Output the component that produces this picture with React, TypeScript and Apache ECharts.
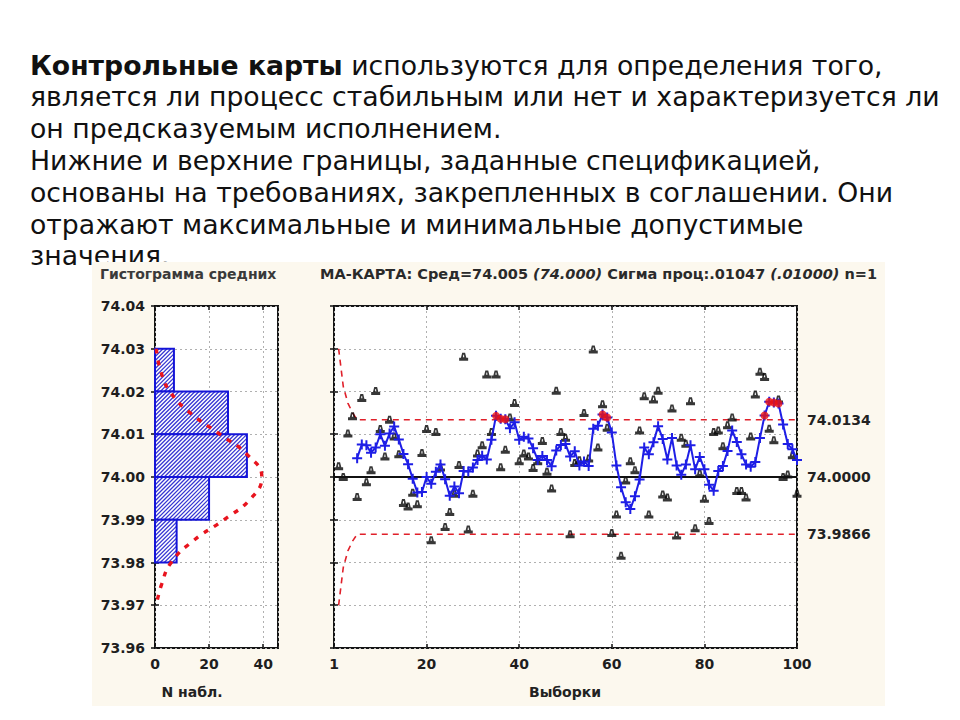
import React, { useEffect, useRef } from 'react';
import * as echarts from 'echarts';

// ---------- slide text ----------
const slideLines: string[] = [
  '{b|Контрольные карты} используются для определения того,',
  'является ли процесс стабильным или нет и характеризуется ли',
  'он предсказуемым исполнением.',
  'Нижние и верхние границы, заданные спецификацией,',
  'основаны на требованиях, закрепленных в соглашении. Они',
  'отражают максимальные и минимальные допустимые',
  'значения.',
];

const histTitle = 'Гистограмма средних';
const maTitleParts: [string, boolean][] = [
  ['МА-КАРТА: Сред=74.005 ', false],
  ['(74.000)', true],
  [' Сигма проц:.01047 ', false],
  ['(.01000)', true],
  [' n=1', false],
];
const histXName = 'N набл.';
const maXName = 'Выборки';

// ---------- histogram ----------
const binLower = [74.02, 74.01, 74.0, 73.99, 73.98];
const binUpper = [74.03, 74.02, 74.01, 74.0, 73.99];
const binCounts = [7, 27, 34, 20, 8];

const curveValues = [74.03, 74.025, 74.02, 74.015, 74.01, 74.005, 74.0, 73.995, 73.99, 73.985, 73.98, 73.975, 73.97];
const curveCounts = [0.5, 2, 5.5, 13, 24, 34.5, 39.5, 35.5, 25.5, 14, 6, 2.5, 0.5];

// ---------- MA chart ----------
const samples = [
  74.0025, 74.0, 74.0102, 74.0142, 73.9953, 74.0185, 73.9988, 74.0016, 74.0201, 74.0112,
  74.0048, 74.0134, 74.0095, 74.0053, 73.9939, 73.9931, 73.9963, 73.9936, 74.0056, 74.0112,
  73.9852, 74.0105, 74.0022, 73.9883, 73.9918, 73.9961, 74.0028, 74.0281, 73.9877, 73.9961,
  74.0055, 74.0074, 74.024, 74.0105, 74.024, 74.0023, 74.0064, 74.0139, 74.0173, 74.0037,
  74.0055, 74.0048, 74.0021, 74.0037, 74.0084, 74.0012, 73.9973, 74.0202, 74.0105, 74.0092,
  73.9866, 74.0033, 74.0039, 74.015, 74.0043, 74.0298, 74.0069, 74.017, 74.0115, 73.9869,
  73.9912, 73.9816, 73.9992, 74.0037, 74.0016, 74.0109, 74.0189, 73.9912, 74.0181, 74.0202,
  73.9959, 73.9952, 74.016, 73.9863, 74.0092, 74.0078, 74.0177, 73.988, 74.0008, 73.9949,
  73.9897, 74.0105, 74.0109, 74.0072, 74.0121, 74.0139, 73.9967, 73.9967, 73.9952, 74.0095,
  74.0193, 74.0246, 74.0234, 74.0113, 74.0086, 74.0181, 74.0, 74.0006, 74.0051, 73.9961,
];

const movingAvg: (number | null)[] = [
  null, null, null, null, 74.0044, 74.0076, 74.0074, 74.0057, 74.0069, 74.01,
  74.0073, 74.0102, 74.0118, 74.0088, 74.0054, 74.003, 73.9996, 73.9964, 73.9965, 74.0,
  73.9984, 74.0012, 74.0029, 73.9995, 73.9956, 73.9978, 73.9962, 74.0014, 74.0013, 74.0022,
  74.004, 74.005, 74.0041, 74.0087, 74.0143, 74.0136, 74.0135, 74.0114, 74.0128, 74.0087,
  74.0094, 74.009, 74.0067, 74.004, 74.0049, 74.004, 74.0025, 74.0062, 74.0075, 74.0077,
  74.0048, 74.006, 74.0027, 74.0036, 74.0026, 74.0113, 74.012, 74.0146, 74.0139, 74.0104,
  74.0027, 73.9976, 73.9941, 73.9925, 73.9955, 73.9994, 74.0069, 74.0053, 74.0081, 74.0119,
  74.0089, 74.0041, 74.0091, 74.0027, 74.0005, 74.0029, 74.0074, 74.0018, 74.0047, 74.0018,
  73.9982, 73.9968, 74.0014, 74.0026, 74.0061, 74.0109, 74.0082, 74.0053, 74.0029, 74.0024,
  74.0035, 74.0091, 74.0144, 74.0176, 74.0174, 74.0172, 74.0123, 74.0077, 74.0065, 74.004,
];

const uclX = [1, 2, 3, 4, 5, 100];
const uclY = [74.03, 74.0212, 74.0173, 74.015, 74.0134, 74.0134];
const lclX = [1, 2, 3, 4, 5, 100];
const lclY = [73.97, 73.9788, 73.9827, 73.985, 73.9866, 73.9866];
const centerValue = 74.0;
const uclValue = 74.0134;
const lclValue = 73.9866;

const yTicks = { min: 73.96, max: 74.04, interval: 0.01 };

const triPath = 'path://M3.4,0 L6.6,0 L8,5 L10,5 L10,8 L0,8 L0,5 L2,5 Z M4.6,2 L4.3,4.4 L5.7,4.4 L5.4,2 Z';
const plusPath = 'path://M4,0 L6,0 L6,4 L10,4 L10,6 L6,6 L6,10 L4,10 L4,6 L0,6 L0,4 L4,4 Z';

const FONT = 'DejaVu Sans';

export default function App() {
  const ref = useRef<HTMLDivElement>(null);

  useEffect(() => {
    if (!ref.current) return;
    const chart = echarts.init(ref.current, undefined, { renderer: 'svg' });

    const tickStyle = { show: true, inside: true, length: 4, lineStyle: { color: '#111', width: 1.5 } };
    const splitStyle = { show: true, lineStyle: { color: '#b0b0b0', type: [2, 3] as any, width: 1 } };
    const labelStyle = { color: '#1e1e1e', fontSize: 14, fontWeight: 'bold', fontFamily: FONT };

    const hatchRender = (params: any, api: any) => {
      const lo = api.value(0);
      const hi = api.value(1);
      const cnt = api.value(2);
      const p0 = api.coord([0, hi]);
      const p1 = api.coord([cnt, lo]);
      const x = p0[0];
      const y = p0[1];
      const w = p1[0] - p0[0];
      const h = p1[1] - p0[1];
      const children: any[] = [
        { type: 'rect', shape: { x, y, width: w, height: h }, style: { fill: '#ffffff' } },
      ];
      const s = 4;
      for (let c = x + y + s; c < x + w + y + h; c += s) {
        const xa = Math.max(x, c - (y + h));
        const xb = Math.min(x + w, c - y);
        if (xb > xa) {
          children.push({
            type: 'line',
            shape: { x1: xa, y1: c - xa, x2: xb, y2: c - xb },
            style: { stroke: '#3535d2', lineWidth: 1.2 },
          });
        }
      }
      children.push({
        type: 'rect',
        shape: { x, y, width: w, height: h },
        style: { fill: 'none', stroke: '#1414d8', lineWidth: 2 },
      });
      return { type: 'group', children };
    };

    const maData = movingAvg
      .map((v, i) => (v == null ? null : [i + 1, v]))
      .filter((d) => d !== null) as number[][];
    const outData = maData.filter((d) => d[1] > uclValue);

    const slideGraphics = slideLines.map((t, k) => ({
      type: 'text',
      x: 30,
      y: 65 + k * 31.8,
      z: -20,
      style: {
        text: t,
        fontSize: 26.7,
        fontFamily: FONT,
        fill: '#111',
        verticalAlign: 'middle',
        align: 'left',
        rich: { b: { fontWeight: 'bold', fontSize: 26.7, fontFamily: FONT, fill: '#111' } },
      },
    }));

    const maTitleText = maTitleParts.map(([t, it]) => `{${it ? 'i' : 'n'}|${t}}`).join('');

    const option: any = {
      animation: false,
      backgroundColor: '#ffffff',
      textStyle: { fontFamily: FONT },
      graphic: [
        ...slideGraphics,
        {
          type: 'rect',
          z: -10,
          shape: { x: 92, y: 262, width: 793, height: 444 },
          style: { fill: '#fcf8ee' },
        },
        {
          type: 'text',
          x: 100,
          y: 274,
          z: 10,
          style: { text: histTitle, fontSize: 14, fontWeight: 'bold', fontFamily: FONT, fill: '#3a3a3a', verticalAlign: 'middle' },
        },
        {
          type: 'text',
          x: 320,
          y: 274,
          z: 10,
          style: {
            text: maTitleText,
            fontSize: 14.5,
            fontWeight: 'bold',
            fontFamily: FONT,
            fill: '#2a2a2a',
            verticalAlign: 'middle',
            rich: {
              n: { fontSize: 14.5, fontWeight: 'bold', fontFamily: FONT, fill: '#2a2a2a' },
              i: { fontSize: 14.5, fontWeight: 'bold', fontFamily: FONT, fill: '#2a2a2a', fontStyle: 'italic' },
            },
          },
        },
        {
          type: 'text',
          x: 192,
          y: 692,
          z: 10,
          style: { text: histXName, fontSize: 14, fontWeight: 'bold', fontFamily: FONT, fill: '#222', align: 'center', verticalAlign: 'middle' },
        },
        {
          type: 'text',
          x: 565,
          y: 692,
          z: 10,
          style: { text: maXName, fontSize: 14, fontWeight: 'bold', fontFamily: FONT, fill: '#222', align: 'center', verticalAlign: 'middle' },
        },
      ],
      grid: [
        { left: 155, top: 306, width: 123, height: 342, show: true, backgroundColor: '#ffffff', borderColor: '#151515', borderWidth: 2 },
        { left: 334, top: 306, width: 463, height: 342, show: true, backgroundColor: '#ffffff', borderColor: '#151515', borderWidth: 2 },
      ],
      xAxis: [
        {
          gridIndex: 0, type: 'value', min: 0, max: 45.5, interval: 20,
          axisLine: { show: false }, axisTick: tickStyle, splitLine: splitStyle,
          axisLabel: { ...labelStyle, margin: 9, formatter: (v: number) => (v % 20 === 0 ? String(v) : '') },
        },
        {
          gridIndex: 0, type: 'value', position: 'top', min: 0, max: 45.5, interval: 20,
          axisLine: { show: false }, axisTick: tickStyle, splitLine: { show: false }, axisLabel: { show: false },
        },
        {
          gridIndex: 1, type: 'value', min: 0, max: 100, interval: 20,
          axisLine: { show: false }, axisTick: tickStyle, splitLine: splitStyle,
          axisLabel: { ...labelStyle, margin: 9, formatter: (v: number) => (v === 0 ? '1' : String(v)) },
        },
        {
          gridIndex: 1, type: 'value', position: 'top', min: 0, max: 100, interval: 20,
          axisLine: { show: false }, axisTick: tickStyle, splitLine: { show: false }, axisLabel: { show: false },
        },
      ],
      yAxis: [
        {
          gridIndex: 0, type: 'value', ...yTicks,
          axisLine: { show: false }, axisTick: tickStyle, splitLine: splitStyle,
          axisLabel: { ...labelStyle, margin: 10, formatter: (v: number) => v.toFixed(2) },
        },
        {
          gridIndex: 0, type: 'value', position: 'right', ...yTicks,
          axisLine: { show: false }, axisTick: tickStyle, splitLine: { show: false }, axisLabel: { show: false },
        },
        {
          gridIndex: 1, type: 'value', ...yTicks,
          axisLine: { show: false }, axisTick: tickStyle, splitLine: splitStyle, axisLabel: { show: false },
        },
        {
          gridIndex: 1, type: 'value', position: 'right', ...yTicks,
          axisLine: { show: false }, axisTick: tickStyle, splitLine: { show: false }, axisLabel: { show: false },
        },
      ],
      series: [
        {
          type: 'custom',
          xAxisIndex: 0,
          yAxisIndex: 0,
          data: binLower.map((lo, i) => [lo, binUpper[i], binCounts[i]]),
          encode: { x: 2, y: [0, 1] },
          renderItem: hatchRender,
          z: 3,
        },
        {
          type: 'line',
          xAxisIndex: 0,
          yAxisIndex: 0,
          data: curveValues.map((v, i) => [curveCounts[i], v]),
          smooth: true,
          symbol: 'none',
          lineStyle: { color: '#e8141e', width: 3.4, type: [5, 7] },
          z: 4,
        },
        {
          type: 'line',
          xAxisIndex: 2,
          yAxisIndex: 2,
          data: uclX.map((x, i) => [x, uclY[i]]),
          symbol: 'none',
          lineStyle: { color: '#e0202a', width: 1.6, type: [6, 5] },
          z: 3,
        },
        {
          type: 'line',
          xAxisIndex: 2,
          yAxisIndex: 2,
          data: lclX.map((x, i) => [x, lclY[i]]),
          symbol: 'none',
          lineStyle: { color: '#e0202a', width: 1.6, type: [6, 5] },
          z: 3,
        },
        {
          type: 'scatter',
          xAxisIndex: 2,
          yAxisIndex: 2,
          data: samples.map((v, i) => [i + 1, v]),
          symbol: triPath,
          symbolSize: [9, 8],
          itemStyle: { color: '#050505' },
          z: 4,
          markLine: {
            silent: true,
            symbol: 'none',
            precision: 4,
            label: {
              show: true,
              position: 'end',
              distance: 10,
              color: '#222',
              fontSize: 14,
              fontWeight: 'bold',
              fontFamily: FONT,
              formatter: (p: any) => Number(p.value).toFixed(4),
            },
            data: [
              { yAxis: centerValue, lineStyle: { color: '#111', width: 2, type: 'solid' } },
              { yAxis: uclValue, lineStyle: { color: 'rgba(0,0,0,0)', width: 0 } },
              { yAxis: lclValue, lineStyle: { color: 'rgba(0,0,0,0)', width: 0 } },
            ],
          },
        },
        {
          type: 'line',
          xAxisIndex: 2,
          yAxisIndex: 2,
          data: maData,
          symbol: plusPath,
          symbolSize: 10,
          showAllSymbol: true,
          itemStyle: { color: '#1e1ee6' },
          lineStyle: { color: '#1e1ee6', width: 2 },
          z: 5,
        },
        {
          type: 'scatter',
          xAxisIndex: 2,
          yAxisIndex: 2,
          data: outData,
          symbol: 'circle',
          symbolSize: 8,
          itemStyle: { color: '#ee1111' },
          z: 6,
        },
      ],
    };

    chart.setOption(option);
    return () => chart.dispose();
  }, []);

  return (
    <div
      ref={ref}
      style={{ position: 'absolute', left: 0, top: 0, width: 960, height: 720, background: '#fff' }}
    />
  );
}
